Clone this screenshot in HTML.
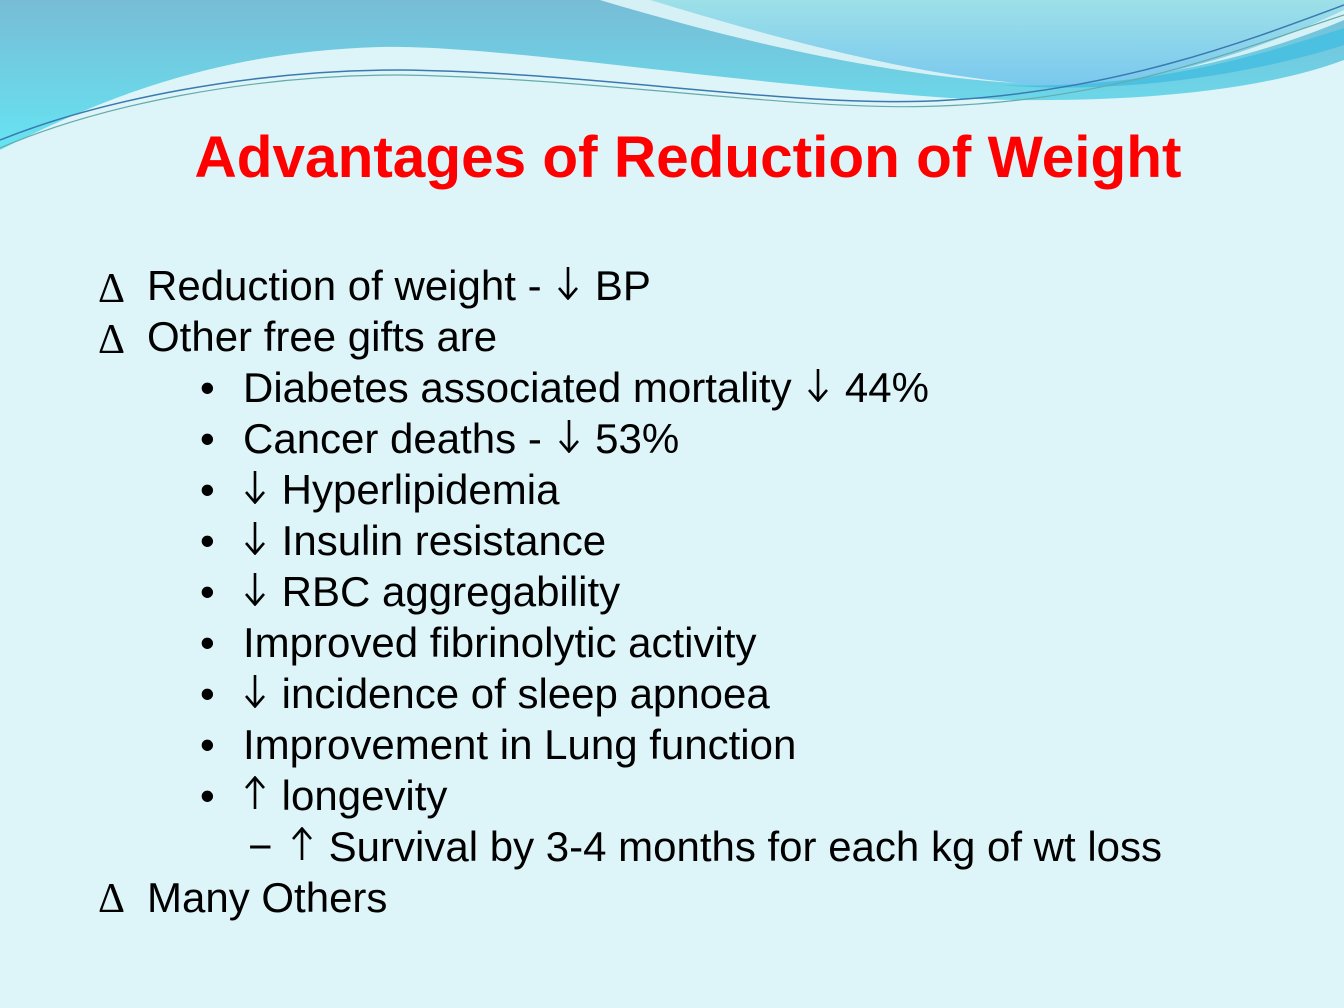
<!DOCTYPE html>
<html><head><meta charset="utf-8"><style>
html,body{margin:0;padding:0}
body{width:1344px;height:1008px;position:relative;overflow:hidden;background:#ddf4f8;font-family:"Liberation Sans",Arial,sans-serif}
.ln{position:absolute;font-size:42px;color:#000;white-space:nowrap;line-height:1}
.ar{display:inline-block;vertical-align:baseline;margin:0 3px}
.dl{font-family:"Liberation Serif",serif;font-size:42px}
.title{position:absolute;left:0;width:1376px;text-align:center;top:129px;font-size:58.5px;font-weight:bold;color:#ff0000;line-height:1}
</style></head><body>
<svg width="1344" height="160" style="position:absolute;left:0;top:0">
<defs>
<linearGradient id="g1" x1="0" y1="0" x2="0" y2="1"><stop offset="0" stop-color="#78bcd6"/><stop offset="1" stop-color="#66e4f2"/></linearGradient>
<linearGradient id="g2" x1="0" y1="0" x2="0" y2="1"><stop offset="0" stop-color="#9de0e8"/><stop offset="1" stop-color="#7ac8ee"/></linearGradient>
<symbol id="dn" viewBox="0 0 24 34"><path d="M12 1 V32 M3 22 L12 32.5 L21 22" stroke="#000" stroke-width="2.6" fill="none"/></symbol>
<symbol id="up" viewBox="0 0 24 34"><path d="M12 33 V2 M3 12 L12 1.5 L21 12" stroke="#000" stroke-width="2.6" fill="none"/></symbol>
</defs>
<path d="M0 0 H1344 V60 C1250 95 1100 105 950 98 C700 80 500 45 380 47 C200 52 80 110 0 150 Z" fill="url(#g1)"/>
<path d="M600 0 C700 30 850 70 1000 82 C1120 90 1250 60 1344 20 V0 Z" fill="#d6f1f5"/>
<path d="M650 0 C750 30 900 75 1040 85 C1150 88 1260 50 1344 10 V0 Z" fill="url(#g2)"/>
<path d="M1000 85 C1150 90 1260 55 1344 28 V45 C1250 75 1120 95 1000 85 Z" fill="#4cc0e0"/>
<path d="M0 140 C100 100 250 70 400 70 C600 72 800 110 950 100 C1120 90 1250 40 1344 5" stroke="#3a7ab0" stroke-width="1.5" fill="none"/>
<path d="M0 148 C100 105 250 75 400 75 C600 78 800 112 940 106 C1120 100 1250 45 1344 15" stroke="#6aa" stroke-width="1.2" fill="none"/>
</svg>
<div class="title">Advantages of Reduction of Weight</div>

<div class="ln dl" style="left:98px;top:268px">Δ</div>
<div class="ln" style="left:147px;top:265px">Reduction of weight - <svg class="ar" width="24" height="34"><use href="#dn"/></svg> BP</div>
<div class="ln dl" style="left:98px;top:319px">Δ</div>
<div class="ln" style="left:147px;top:316px">Other free gifts are</div>

<div class="ln" style="left:200px;top:367px">•</div>
<div class="ln" style="left:243px;top:367px">Diabetes associated mortality <svg class="ar" width="24" height="34"><use href="#dn"/></svg> 44%</div>
<div class="ln" style="left:200px;top:418px">•</div>
<div class="ln" style="left:243px;top:418px">Cancer deaths - <svg class="ar" width="24" height="34"><use href="#dn"/></svg> 53%</div>
<div class="ln" style="left:200px;top:469px">•</div>
<div class="ln" style="left:240px;top:469px"><svg class="ar" width="24" height="34"><use href="#dn"/></svg> Hyperlipidemia</div>
<div class="ln" style="left:200px;top:520px">•</div>
<div class="ln" style="left:240px;top:520px"><svg class="ar" width="24" height="34"><use href="#dn"/></svg> Insulin resistance</div>
<div class="ln" style="left:200px;top:571px">•</div>
<div class="ln" style="left:240px;top:571px"><svg class="ar" width="24" height="34"><use href="#dn"/></svg> RBC aggregability</div>
<div class="ln" style="left:200px;top:622px">•</div>
<div class="ln" style="left:243px;top:622px">Improved fibrinolytic activity</div>
<div class="ln" style="left:200px;top:673px">•</div>
<div class="ln" style="left:240px;top:673px"><svg class="ar" width="24" height="34"><use href="#dn"/></svg> incidence of sleep apnoea</div>
<div class="ln" style="left:200px;top:724px">•</div>
<div class="ln" style="left:243px;top:724px">Improvement in Lung function</div>
<div class="ln" style="left:200px;top:775px">•</div>
<div class="ln" style="left:240px;top:775px"><svg class="ar" width="24" height="34"><use href="#up"/></svg> longevity</div>
<div class="ln" style="left:248px;top:826px">−</div>
<div class="ln" style="left:287px;top:826px"><svg class="ar" width="24" height="34"><use href="#up"/></svg> Survival by 3-4 months for each kg of wt loss</div>

<div class="ln dl" style="left:98px;top:878px">Δ</div>
<div class="ln" style="left:147px;top:877px">Many Others</div>
</body></html>
